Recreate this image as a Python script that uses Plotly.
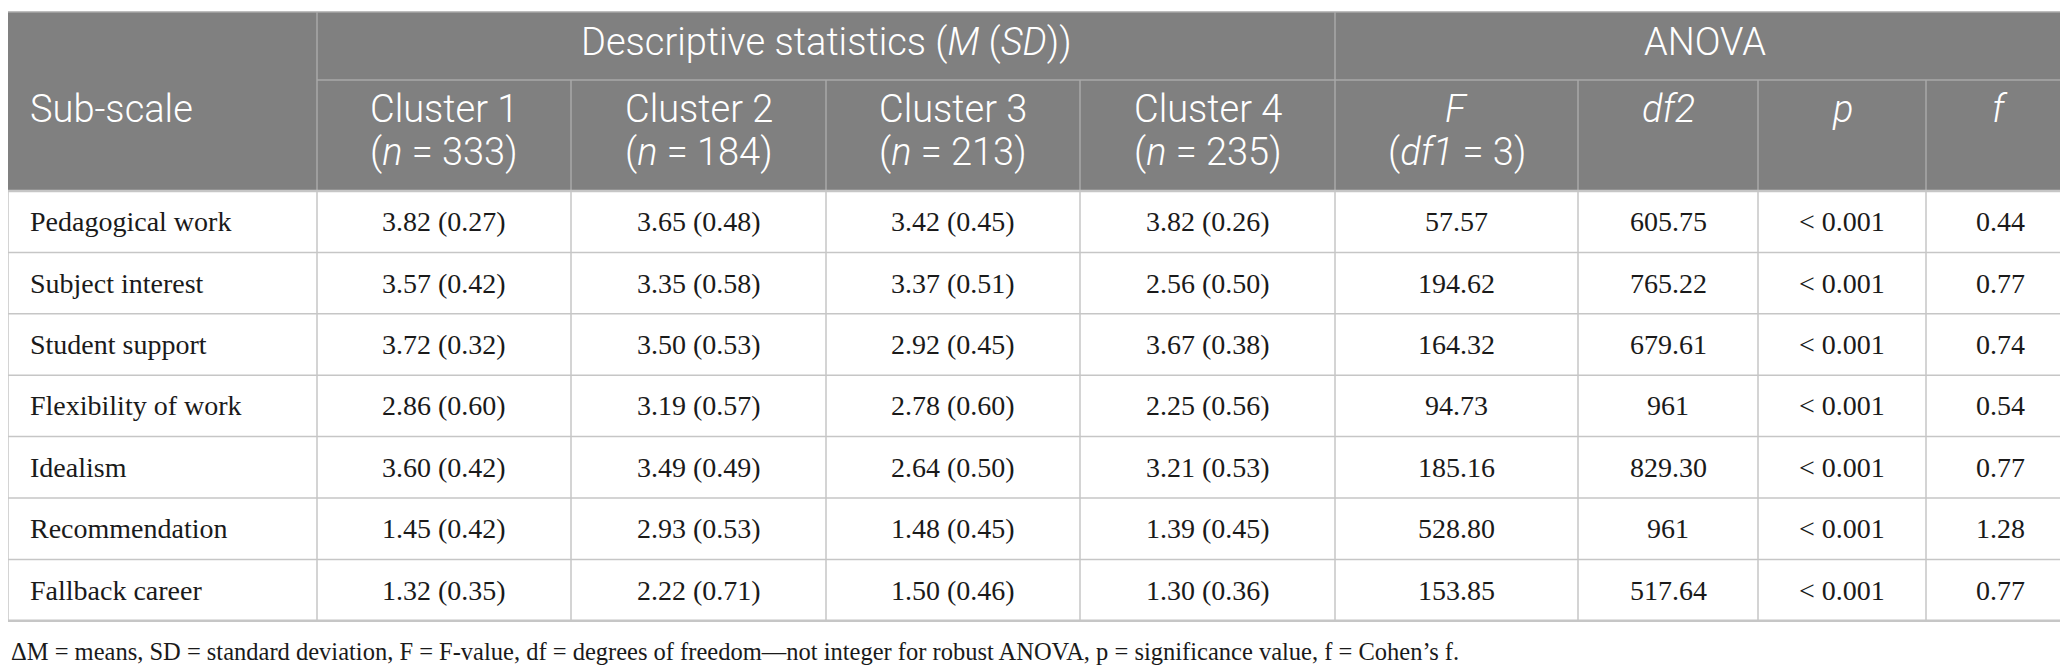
import plotly.graph_objects as go

# --- table data ---
subscales = ["Pedagogical work", "Subject interest", "Student support", "Flexibility of work",
             "Idealism", "Recommendation", "Fallback career"]
cluster_labels = ["Cluster 1", "Cluster 2", "Cluster 3", "Cluster 4"]
cluster_n = [333, 184, 213, 235]

c1_mean = [3.82, 3.57, 3.72, 2.86, 3.60, 1.45, 1.32]
c1_sd = [0.27, 0.42, 0.32, 0.60, 0.42, 0.42, 0.35]
c2_mean = [3.65, 3.35, 3.50, 3.19, 3.49, 2.93, 2.22]
c2_sd = [0.48, 0.58, 0.53, 0.57, 0.49, 0.53, 0.71]
c3_mean = [3.42, 3.37, 2.92, 2.78, 2.64, 1.48, 1.50]
c3_sd = [0.45, 0.51, 0.45, 0.60, 0.50, 0.45, 0.46]
c4_mean = [3.82, 2.56, 3.67, 2.25, 3.21, 1.39, 1.30]
c4_sd = [0.26, 0.50, 0.38, 0.56, 0.53, 0.45, 0.36]

f_value = [57.57, 194.62, 164.32, 94.73, 185.16, 528.80, 153.85]
df2 = ["605.75", "765.22", "679.61", "961", "829.30", "961", "517.64"]
p_value = ["< 0.001"] * 7
cohen_f = [0.44, 0.77, 0.74, 0.54, 0.77, 1.28, 0.77]

footnote = ("ΔM = means, SD = standard deviation, F = F-value, df = degrees of freedom\u2014not integer "
            "for robust ANOVA, p = significance value, f = Cohen\u2019s f.")

# --- layout geometry (pixels) ---
W, H = 2068, 667
col_edges = [0, 309, 563, 818, 1072, 1327, 1570, 1750, 1918, 2066]
top_y = 4
head_mid_y = 72
head_bot_y = 183
row_h = 61.4

HEAD_BG = "#808080"
HEAD_LINE = "#a9a9a9"
GRID = "#c6c6c6"
SANS = "Roboto, Lato, sans-serif"
SERIF = "'Liberation Serif', 'DejaVu Serif', serif"

fig = go.Figure()
shapes = []
annotations = []


def line(x0, y0, x1, y1, color, width=1.5):
    shapes.append(dict(type="line", xref="x", yref="y", x0=x0, y0=y0, x1=x1, y1=y1,
                       line=dict(color=color, width=width), layer="above"))


def text(x, y, s, font, size, color, anchor="center", weight=None):
    f = dict(family=font, size=size, color=color)
    if weight:
        f["weight"] = weight
    annotations.append(dict(x=x, y=y, xref="x", yref="y", text=s, showarrow=False,
                            xanchor=anchor, yanchor="middle", font=f))


# header band
shapes.append(dict(type="rect", xref="x", yref="y", x0=col_edges[0], x1=col_edges[-1],
                   y0=top_y, y1=head_bot_y, fillcolor=HEAD_BG, line=dict(width=0), layer="below"))

n_rows = len(subscales)
body_bot = head_bot_y + row_h * n_rows

# header lines
line(col_edges[0], top_y, col_edges[-1], top_y, HEAD_LINE)
line(col_edges[1], head_mid_y, col_edges[-1], head_mid_y, HEAD_LINE)
for i, xe in enumerate(col_edges):
    if i in (0, 9):
        continue
    if i in (1, 5):
        line(xe, top_y, xe, head_bot_y, HEAD_LINE)
    else:
        line(xe, head_mid_y, xe, head_bot_y, HEAD_LINE)

# body grid
for r in range(n_rows + 1):
    y = head_bot_y + r * row_h
    line(col_edges[0], y, col_edges[-1], y, GRID, 2.5 if r in (0, n_rows) else 1.5)
for xe in col_edges:
    line(xe, head_bot_y, xe, body_bot, GRID)

# header text
HSIZE = 38
HW = 300
text((col_edges[1] + col_edges[5]) / 2, 34,
     "Descriptive statistics (<i>M</i> (<i>SD</i>))", SANS, HSIZE, "white", weight=HW)
text((col_edges[5] + col_edges[9]) / 2, 34, "ANOVA", SANS, HSIZE, "white", weight=HW)

l1_y, l2_y = 101, 144
text(col_edges[0] + 20, l1_y, "Sub-scale", SANS, HSIZE, "white", anchor="left", weight=HW)
for k, (lab, n) in enumerate(zip(cluster_labels, cluster_n)):
    cx = (col_edges[k + 1] + col_edges[k + 2]) / 2
    text(cx, l1_y, lab, SANS, HSIZE, "white", weight=HW)
    text(cx, l2_y, f"(<i>n</i> = {n})", SANS, HSIZE, "white", weight=HW)
cx = (col_edges[5] + col_edges[6]) / 2
text(cx, l1_y, "<i>F</i>", SANS, HSIZE, "white", weight=HW)
text(cx, l2_y, "(<i>df1</i> = 3)", SANS, HSIZE, "white", weight=HW)
for k, lab in zip((6, 7, 8), ("<i>df2</i>", "<i>p</i>", "<i>f</i>")):
    text((col_edges[k] + col_edges[k + 1]) / 2, l1_y, lab, SANS, HSIZE, "white", weight=HW)

# body text
BSIZE = 28
BCOL = "#1a1a1a"
means = [c1_mean, c2_mean, c3_mean, c4_mean]
sds = [c1_sd, c2_sd, c3_sd, c4_sd]
for r, name in enumerate(subscales):
    cy = head_bot_y + (r + 0.5) * row_h
    text(col_edges[0] + 20, cy, name, SERIF, BSIZE, BCOL, anchor="left")
    cells = [f"{means[k][r]:.2f} ({sds[k][r]:.2f})" for k in range(4)]
    cells += [f"{f_value[r]:.2f}", df2[r], p_value[r], f"{cohen_f[r]:.2f}"]
    for c, s in enumerate(cells):
        text((col_edges[c + 1] + col_edges[c + 2]) / 2, cy, s, SERIF, BSIZE, BCOL)

text(1, 643, footnote, SERIF, 24.5, BCOL, anchor="left")

fig.update_layout(
    width=W, height=H,
    margin=dict(l=0, r=0, t=0, b=0),
    paper_bgcolor="white", plot_bgcolor="white",
    xaxis=dict(range=[0, W], visible=False, fixedrange=True),
    yaxis=dict(range=[H, 0], visible=False, fixedrange=True),
    shapes=shapes, annotations=annotations,
    showlegend=False,
)

fig.write_html("out.html", config={"displayModeBar": False})
